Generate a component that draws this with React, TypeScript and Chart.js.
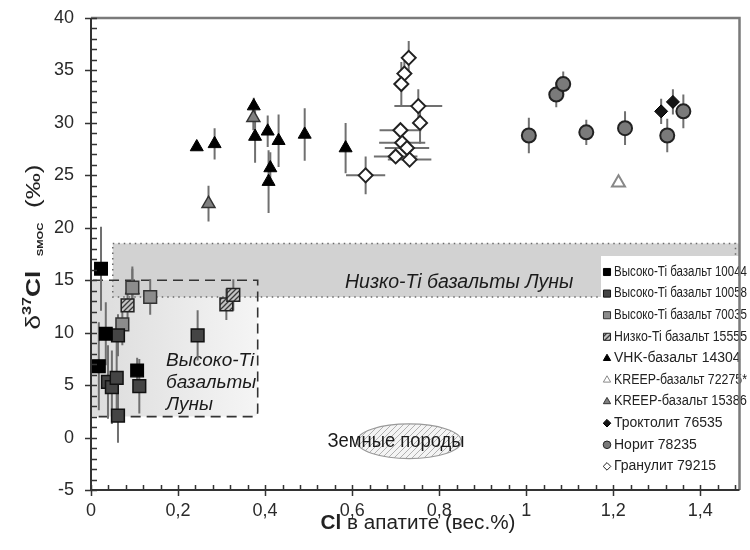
import React, { useEffect, useRef } from "react";
import { Chart, registerables } from "chart.js";
Chart.register(...registerables);

const FONT = "'Liberation Sans', Arial, Helvetica, sans-serif";

// ---- data ----
const seriesLabels = [
  "Высоко-Ti базальт 10044",
  "Высоко-Ti базальт 10058",
  "Высоко-Ti базальт 70035",
  "Низко-Ti базальт 15555",
  "VHK-базальт 14304",
  "KREEP-базальт 72275*",
  "KREEP-базальт 15386",
  "Троктолит 76535",
  "Норит 78235",
  "Гранулит 79215",
];

const hiTi10044X = [0.023, 0.034, 0.018, 0.106];
const hiTi10044Y = [16.1, 9.9, 6.8, 6.4];
const hiTi10044Err = [4.0, 3.0, 4.2, 1.2];

const hiTi10058X = [0.062, 0.039, 0.048, 0.059, 0.062, 0.111, 0.245];
const hiTi10058Y = [9.75, 5.3, 4.8, 5.7, 2.1, 4.9, 9.74];
const hiTi10058Err = [2.0, 3.5, 3.5, 3.5, 2.6, 2.6, 2.4];

const hiTi70035X = [0.072, 0.136, 0.095];
const hiTi70035Y = [10.8, 13.4, 14.3];
const hiTi70035Err = [2.0, 1.7, 2.0];

const loTi15555X = [0.084, 0.311, 0.327];
const loTi15555Y = [12.6, 12.7, 13.6];
const loTi15555Err = [1.5, 1.5, 1.5];

const vhk14304X = [0.243, 0.284, 0.374, 0.377, 0.406, 0.431, 0.412, 0.408, 0.491, 0.585];
const vhk14304Y = [27.7, 28.0, 31.6, 28.7, 29.2, 28.3, 25.7, 24.4, 28.9, 27.6];
const vhk14304Err = [0, 1.5, 0.8, 2.5, 1.5, 2.5, 1.5, 3.0, 2.5, 2.4];

const kreep72275X = [1.212];
const kreep72275Y = [24.3];
const kreep72275Err = [0];

const kreep15386X = [0.373, 0.27, 0.095];
const kreep15386Y = [30.5, 22.3, 14.1];
const kreep15386Err = [1.2, 1.7, 2.0];

const troct76535X = [1.31, 1.337];
const troct76535Y = [31.1, 32.0];
const troct76535Err = [1.2, 1.2];

const norite78235X = [1.006, 1.069, 1.085, 1.138, 1.227, 1.324, 1.361];
const norite78235Y = [28.8, 32.7, 33.7, 29.1, 29.5, 28.8, 31.1];
const norite78235Err = [1.7, 1.2, 1.2, 1.2, 1.6, 1.6, 1.6];

const gran79215X = [0.73, 0.72, 0.713, 0.752, 0.756, 0.711, 0.715, 0.726, 0.7, 0.732, 0.631];
const gran79215Y = [36.2, 34.7, 33.7, 31.6, 30.0, 29.3, 28.1, 27.6, 26.8, 26.5, 25.0];
const gran79215YErr = [1.6, 1.2, 2.1, 1.6, 2.0, 0, 0, 0, 0, 0, 1.8];
const gran79215XErr = [0, 0, 0, 0.055, 0, 0.048, 0.053, 0.051, 0.05, 0.05, 0.045];

// axis ticks
const xTickValues = [0, 0.2, 0.4, 0.6, 0.8, 1, 1.2, 1.4];
const xMin = 0, xMax = 1.49, xMinorStep = 0.04;
const yMin = -5, yMax = 40, yMajorStep = 5, yMinorStep = 1;

// annotation regions (data coordinates)
const lowTiBandX = [0.05, 1.49];
const lowTiBandY = [13.4, 18.5];
const highTiBoxX = [0, 0.383];
const highTiBoxY = [2, 15];
const earthEllipse = { x: 0.731, y: -0.35, rx: 0.12, ry: 1.65 };

const lowTiLabel = "Низко-Ti базальты Луны";
const highTiLabel = ["Высоко-Ti", "базальты", "Луны"];
const earthLabel = "Земные породы";

function pts(xs: number[], ys: number[]) {
  return xs.map((x, i) => ({ x, y: ys[i] }));
}

function makeHatch(bg: string, fg: string, size: number, lw: number) {
  const c = document.createElement("canvas");
  c.width = size;
  c.height = size;
  const g = c.getContext("2d")!;
  g.fillStyle = bg;
  g.fillRect(0, 0, size, size);
  g.strokeStyle = fg;
  g.lineWidth = lw;
  g.beginPath();
  g.moveTo(0, size);
  g.lineTo(size, 0);
  g.moveTo(-size / 2, size / 2);
  g.lineTo(size / 2, -size / 2);
  g.moveTo(size / 2, size * 1.5);
  g.lineTo(size * 1.5, size / 2);
  g.stroke();
  return g.createPattern(c, "repeat")!;
}

function markerPath(ctx: CanvasRenderingContext2D, style: string, x: number, y: number, r: number) {
  ctx.beginPath();
  if (style === "rect") {
    const s = Math.SQRT1_2 * r;
    ctx.rect(x - s, y - s, 2 * s, 2 * s);
  } else if (style === "triangle") {
    const s = r * Math.sqrt(3);
    const h = (s * Math.sqrt(3)) / 2;
    ctx.moveTo(x, y - (2 * h) / 3);
    ctx.lineTo(x + s / 2, y + h / 3);
    ctx.lineTo(x - s / 2, y + h / 3);
    ctx.closePath();
  } else if (style === "circle") {
    ctx.arc(x, y, r, 0, Math.PI * 2);
  } else {
    ctx.moveTo(x - r, y);
    ctx.lineTo(x, y - r);
    ctx.lineTo(x + r, y);
    ctx.lineTo(x, y + r);
    ctx.closePath();
  }
}

function zeroPad(s: any) {
  s.paddingTop = 0;
  s.paddingBottom = 0;
  s.paddingLeft = 0;
  s.paddingRight = 0;
}

export default function App() {
  const ref = useRef<HTMLCanvasElement>(null);

  useEffect(() => {
    document.body.style.margin = "0";
    const canvas = ref.current!;
    const hatch = makeHatch("#c4c4c4", "#3a3a3a", 5, 1.3);
    const ellHatch = makeHatch("#f4f4f4", "#b0b0b0", 6, 1);

    const datasets: any[] = [
      { label: seriesLabels[0], data: pts(hiTi10044X, hiTi10044Y), yErr: hiTi10044Err, pointStyle: "rect", pointRadius: 9, backgroundColor: "#000", borderColor: "#000", borderWidth: 1.2 },
      { label: seriesLabels[1], data: pts(hiTi10058X, hiTi10058Y), yErr: hiTi10058Err, pointStyle: "rect", pointRadius: 9, backgroundColor: "#444", borderColor: "#111", borderWidth: 1.5 },
      { label: seriesLabels[2], data: pts(hiTi70035X, hiTi70035Y), yErr: hiTi70035Err, pointStyle: "rect", pointRadius: 9, backgroundColor: "#8c8c8c", borderColor: "#333", borderWidth: 1.5 },
      { label: seriesLabels[3], data: pts(loTi15555X, loTi15555Y), yErr: loTi15555Err, pointStyle: "rect", pointRadius: 9, backgroundColor: hatch, borderColor: "#222", borderWidth: 1.5 },
      { label: seriesLabels[4], data: pts(vhk14304X, vhk14304Y), yErr: vhk14304Err, pointStyle: "triangle", pointRadius: 7.5, backgroundColor: "#000", borderColor: "#000", borderWidth: 1 },
      { label: seriesLabels[5], data: pts(kreep72275X, kreep72275Y), yErr: kreep72275Err, pointStyle: "triangle", pointRadius: 7.5, backgroundColor: "#fff", borderColor: "#888", borderWidth: 2 },
      { label: seriesLabels[6], data: pts(kreep15386X, kreep15386Y), yErr: kreep15386Err, pointStyle: "triangle", pointRadius: 7.5, backgroundColor: "#808080", borderColor: "#333", borderWidth: 1.5 },
      { label: seriesLabels[7], data: pts(troct76535X, troct76535Y), yErr: troct76535Err, pointStyle: "rectRot", pointRadius: 6.5, backgroundColor: "#151515", borderColor: "#000", borderWidth: 1 },
      { label: seriesLabels[8], data: pts(norite78235X, norite78235Y), yErr: norite78235Err, pointStyle: "circle", pointRadius: 7, backgroundColor: "#7a7a7a", borderColor: "#222", borderWidth: 2 },
      { label: seriesLabels[9], data: pts(gran79215X, gran79215Y), yErr: gran79215YErr, xErr: gran79215XErr, pointStyle: "rectRot", pointRadius: 7, backgroundColor: "#fff", borderColor: "#222", borderWidth: 2 },
    ];

    const backgroundPlugin = {
      id: "bgShapes",
      beforeDatasetsDraw(chart: any) {
        const { ctx, chartArea: ca } = chart;
        const xs = chart.scales.x, ys = chart.scales.y;
        ctx.save();
        ctx.beginPath();
        ctx.rect(ca.left, ca.top, ca.right - ca.left, ca.bottom - ca.top);
        ctx.clip();

        // high-Ti box
        const bx0 = xs.getPixelForValue(highTiBoxX[0]);
        const bx1 = xs.getPixelForValue(highTiBoxX[1]);
        const byT = ys.getPixelForValue(highTiBoxY[1]);
        const byB = ys.getPixelForValue(highTiBoxY[0]);
        const rad = 5;
        const grad = ctx.createLinearGradient(bx0, 0, bx1, 0);
        grad.addColorStop(0, "#dcdcdc");
        grad.addColorStop(1, "#f5f5f5");
        ctx.fillStyle = grad;
        ctx.beginPath();
        ctx.moveTo(bx0, byT);
        ctx.lineTo(bx1, byT);
        ctx.lineTo(bx1, byB - rad);
        ctx.quadraticCurveTo(bx1, byB, bx1 - rad, byB);
        ctx.lineTo(bx0, byB);
        ctx.closePath();
        ctx.fill();

        // low-Ti band
        const lx0 = xs.getPixelForValue(lowTiBandX[0]);
        const lx1 = xs.getPixelForValue(lowTiBandX[1]);
        const lyT = ys.getPixelForValue(lowTiBandY[1]);
        const lyB = ys.getPixelForValue(lowTiBandY[0]);
        ctx.fillStyle = "#d2d2d2";
        ctx.fillRect(lx0, lyT, lx1 - lx0, lyB - lyT);
        ctx.strokeStyle = "#6a6a6a";
        ctx.lineWidth = 1.5;
        ctx.setLineDash([1.5, 4]);
        ctx.strokeRect(lx0, lyT, lx1 - lx0 - 4, lyB - lyT);

        // dashed box outline
        ctx.strokeStyle = "#333";
        ctx.lineWidth = 1.6;
        ctx.setLineDash([10, 6]);
        ctx.beginPath();
        ctx.moveTo(bx0 + 2, byT);
        ctx.lineTo(bx1, byT);
        ctx.lineTo(bx1, byB - rad);
        ctx.quadraticCurveTo(bx1, byB, bx1 - rad, byB);
        ctx.lineTo(bx0 + 2, byB);
        ctx.stroke();
        ctx.setLineDash([]);

        // earth ellipse
        const ex = xs.getPixelForValue(earthEllipse.x);
        const ey = ys.getPixelForValue(earthEllipse.y);
        const erx = Math.abs(xs.getPixelForValue(earthEllipse.x + earthEllipse.rx) - ex);
        const ery = Math.abs(ys.getPixelForValue(earthEllipse.y + earthEllipse.ry) - ey);
        ctx.beginPath();
        ctx.ellipse(ex, ey, erx, ery, 0, 0, Math.PI * 2);
        ctx.fillStyle = ellHatch;
        ctx.fill();
        ctx.strokeStyle = "#999";
        ctx.lineWidth = 1.2;
        ctx.stroke();

        // labels
        ctx.fillStyle = "#1a1a1a";
        ctx.textBaseline = "middle";
        ctx.textAlign = "left";
        ctx.font = `italic 19.5px ${FONT}`;
        ctx.fillText(lowTiLabel, 345, 283, 233);
        ctx.font = `italic 19px ${FONT}`;
        highTiLabel.forEach((t, i) => ctx.fillText(t, 166, 361 + i * 22));
        ctx.font = `20px ${FONT}`;
        ctx.textAlign = "center";
        ctx.fillText(earthLabel, 396, 441, 137);

        // error bars
        ctx.strokeStyle = "#707070";
        ctx.lineWidth = 2;
        chart.data.datasets.forEach((ds: any) => {
          ds.data.forEach((p: any, i: number) => {
            const px = xs.getPixelForValue(p.x);
            const py = ys.getPixelForValue(p.y);
            const ey2 = ds.yErr ? ds.yErr[i] : 0;
            const ex2 = ds.xErr ? ds.xErr[i] : 0;
            ctx.beginPath();
            if (ey2 > 0) {
              ctx.moveTo(px, ys.getPixelForValue(p.y + ey2));
              ctx.lineTo(px, ys.getPixelForValue(p.y - ey2));
            }
            if (ex2 > 0) {
              ctx.moveTo(xs.getPixelForValue(p.x - ex2), py);
              ctx.lineTo(xs.getPixelForValue(p.x + ex2), py);
            }
            ctx.stroke();
          });
        });
        ctx.restore();
      },
    };

    const legendPlugin = {
      id: "customLegend",
      afterDatasetsDraw(chart: any) {
        const { ctx, chartArea: ca } = chart;
        const left = 601, top = 256;
        ctx.save();
        ctx.fillStyle = "#fff";
        ctx.fillRect(left, top, ca.right - left, ca.bottom - top);
        chart.data.datasets.forEach((ds: any, i: number) => {
          const yy = 272 + i * 21.6;
          const r = ds.pointStyle === "rect" ? 5 : ds.pointStyle === "triangle" ? 4.2 : 3.8;
          markerPath(ctx, ds.pointStyle, 607, yy, r);
          ctx.fillStyle = ds.backgroundColor;
          ctx.fill();
          ctx.lineWidth = 1;
          ctx.strokeStyle = ds.borderColor;
          ctx.stroke();
          ctx.fillStyle = "#222";
          ctx.font = `14px ${FONT}`;
          ctx.textAlign = "left";
          ctx.textBaseline = "middle";
          ctx.fillText(ds.label, 614, yy, 133);
        });
        ctx.restore();
      },
    };

    const axesPlugin = {
      id: "axesFrame",
      afterDraw(chart: any) {
        const { ctx, chartArea: ca } = chart;
        const xs = chart.scales.x, ys = chart.scales.y;
        ctx.save();
        // top and right frame
        ctx.strokeStyle = "#7a7a7a";
        ctx.lineWidth = 2.5;
        ctx.beginPath();
        ctx.moveTo(ca.left, ca.top);
        ctx.lineTo(ca.right, ca.top);
        ctx.lineTo(ca.right, ca.bottom);
        ctx.stroke();
        // axes
        ctx.strokeStyle = "#333";
        ctx.lineWidth = 2;
        ctx.beginPath();
        ctx.moveTo(ca.left, ca.top);
        ctx.lineTo(ca.left, ca.bottom);
        ctx.lineTo(ca.right, ca.bottom);
        ctx.stroke();
        // ticks
        ctx.lineWidth = 1.5;
        ctx.beginPath();
        for (let v = yMin; v <= yMax + 1e-9; v += yMinorStep) {
          const py = Math.round(ys.getPixelForValue(v)) + 0.5;
          const major = Math.abs(v / yMajorStep - Math.round(v / yMajorStep)) < 1e-6;
          ctx.moveTo(ca.left - (major ? 6 : 0), py);
          ctx.lineTo(ca.left + 6, py);
        }
        const nMinor = Math.floor((xMax - xMin) / xMinorStep + 1e-6);
        for (let k = 0; k <= nMinor; k++) {
          const v = xMin + k * xMinorStep;
          const px = Math.round(xs.getPixelForValue(v)) + 0.5;
          ctx.moveTo(px, ca.bottom - 5);
          ctx.lineTo(px, ca.bottom);
        }
        xTickValues.forEach((v) => {
          const px = Math.round(xs.getPixelForValue(v)) + 0.5;
          ctx.moveTo(px, ca.bottom - 5);
          ctx.lineTo(px, ca.bottom + 6);
        });
        ctx.stroke();

        // y title (stretched along its direction to the measured span)
        ctx.fillStyle = "#222";
        ctx.textBaseline = "alphabetic";
        ctx.textAlign = "left";
        const yParts = [
          { t: "δ", f: `21px ${FONT}`, dy: 0 },
          { t: "37", f: `bold 13px ${FONT}`, dy: -9 },
          { t: "Cl", f: `bold 21px ${FONT}`, dy: 0 },
          { t: "  ", f: `21px ${FONT}`, dy: 0 },
          { t: "SMOC", f: `bold 9px ${FONT}`, dy: 3 },
          { t: "  (‰)", f: `21px ${FONT}`, dy: 0 },
        ];
        let total = 0;
        yParts.forEach((p) => { ctx.font = p.f; total += ctx.measureText(p.t).width; });
        const ySpan = 165;
        ctx.save();
        ctx.translate(33, 247);
        ctx.rotate(-Math.PI / 2);
        ctx.scale(ySpan / total, 1);
        let cx = -total / 2;
        yParts.forEach((p) => { ctx.font = p.f; ctx.fillText(p.t, cx, 7 + p.dy); cx += ctx.measureText(p.t).width; });
        ctx.restore();

        // x title
        const xParts = [
          { t: "Cl", f: `bold 20px ${FONT}` },
          { t: " в апатите (вес.%)", f: `20px ${FONT}` },
        ];
        total = 0;
        xParts.forEach((p) => { ctx.font = p.f; total += ctx.measureText(p.t).width; });
        const xSpan = 195;
        ctx.save();
        ctx.translate(418, 529);
        ctx.scale(xSpan / total, 1);
        cx = -total / 2;
        xParts.forEach((p) => { ctx.font = p.f; ctx.fillText(p.t, cx, 0); cx += ctx.measureText(p.t).width; });
        ctx.restore();
        ctx.restore();
      },
    };

    const chart = new Chart(canvas, {
      type: "scatter",
      data: { datasets },
      options: {
        responsive: false,
        animation: false,
        devicePixelRatio: 1,
        layout: { padding: { left: 0, right: 2, top: 18, bottom: 0 } },
        plugins: { legend: { display: false }, tooltip: { enabled: false } },
        scales: {
          x: {
            type: "linear",
            min: xMin,
            max: xMax,
            afterBuildTicks: (s: any) => { s.ticks = xTickValues.map((v) => ({ value: v })); },
            afterFit: (s: any) => { s.height = 60; zeroPad(s); },
            grid: { display: false, drawTicks: false },
            border: { display: false },
            ticks: {
              padding: 10,
              autoSkip: false,
              maxRotation: 0,
              color: "#2a2a2a",
              font: { size: 18, family: FONT },
              callback: (v: any) => String(v).replace(".", ","),
            },
          },
          y: {
            type: "linear",
            min: yMin,
            max: yMax,
            afterFit: (s: any) => { s.width = 91; zeroPad(s); },
            grid: { display: false, drawTicks: false },
            border: { display: false },
            ticks: {
              stepSize: yMajorStep,
              padding: 17,
              color: "#2a2a2a",
              font: { size: 18, family: FONT },
            },
          },
        },
      } as any,
      plugins: [backgroundPlugin, legendPlugin, axesPlugin],
    });
    return () => chart.destroy();
  }, []);

  return <canvas ref={ref} width={750} height={550} style={{ display: "block" }} />;
}
